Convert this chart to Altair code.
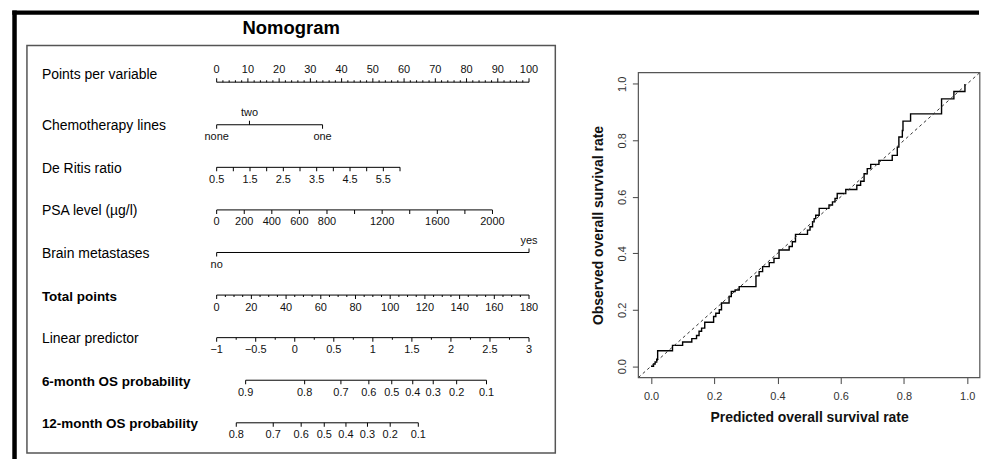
import altair as alt
import pandas as pd

FONT = "Liberation Sans"

# ---------------- Nomogram values ----------------
panel_title = "Nomogram"
row_names = ["Points per variable", "Chemotherapy lines", "De Ritis ratio",
             "PSA level (\u00b5g/l)", "Brain metastases", "Total points",
             "Linear predictor", "6-month OS probability", "12-month OS probability"]
row_bold = [False, False, False, False, False, True, False, True, True]

points_labels = [0, 10, 20, 30, 40, 50, 60, 70, 80, 90, 100]
points_minor_step = 2

chemo_levels = ["none", "two", "one"]
chemo_points = [0.0, 10.5, 33.9]
chemo_side = ["below", "above", "below"]

deritis_ticks = [0.5, 1.0, 1.5, 2.0, 2.5, 3.0, 3.5, 4.0, 4.5, 5.0, 5.5, 6.0]
deritis_labels = [0.5, 1.5, 2.5, 3.5, 4.5, 5.5]
deritis_points_at_max = 58.7

psa_ticks = [0, 200, 400, 600, 800, 1000, 1200, 1400, 1600, 1800, 2000]
psa_labels = [0, 200, 400, 600, 800, 1200, 1600, 2000]
psa_points_at_max = 88.3

brain_levels = ["no", "yes"]
brain_points = [0.0, 100.0]
brain_side = ["below", "above"]

total_labels = [0, 20, 40, 60, 80, 100, 120, 140, 160, 180]
total_minor_step = 5
total_max = 180

lp_labels = [-1, -0.5, 0, 0.5, 1, 1.5, 2, 2.5, 3]
lp_minor = [-0.75, -0.25, 0.25, 0.75, 1.25, 1.75, 2.25, 2.75]

os6_probs = [0.9, 0.8, 0.7, 0.6, 0.5, 0.4, 0.3, 0.2, 0.1]
os6_total_points = [16.7, 50.7, 71.6, 87.7, 100.9, 113.0, 124.8, 138.3, 155.5]
os12_probs = [0.8, 0.7, 0.6, 0.5, 0.4, 0.3, 0.2, 0.1]
os12_total_points = [11.3, 32.6, 48.7, 62.0, 74.5, 86.9, 100.0, 116.2]

# ---------------- Calibration values ----------------
cal_pred = [0.000, 0.008, 0.013, 0.018, 0.021, 0.068, 0.100, 0.129, 0.144, 0.152,
            0.160, 0.170, 0.198, 0.205, 0.216, 0.223, 0.247, 0.254, 0.266, 0.279,
            0.332, 0.342, 0.353, 0.374, 0.389, 0.405, 0.437, 0.447, 0.457, 0.495,
            0.503, 0.511, 0.516, 0.521, 0.532, 0.563, 0.574, 0.582, 0.589, 0.616,
            0.651, 0.663, 0.674, 0.684, 0.695, 0.721, 0.763, 0.779, 0.784, 0.795,
            0.797, 0.821, 0.919, 0.958, 0.993]
cal_obs = [0.000, 0.008, 0.015, 0.025, 0.055, 0.074, 0.086, 0.098, 0.109, 0.124,
           0.135, 0.156, 0.176, 0.188, 0.200, 0.224, 0.247, 0.265, 0.270, 0.282,
           0.320, 0.335, 0.353, 0.367, 0.382, 0.412, 0.424, 0.441, 0.467, 0.482,
           0.494, 0.512, 0.523, 0.535, 0.559, 0.571, 0.582, 0.594, 0.612, 0.626,
           0.641, 0.655, 0.682, 0.700, 0.715, 0.729, 0.747, 0.776, 0.812, 0.835,
           0.868, 0.894, 0.947, 0.973, 1.000]
cal_limits = [-0.04, 1.04]
cal_ticks = [0.0, 0.2, 0.4, 0.6, 0.8, 1.0]


def fmt(v):
    return f"{v:g}".replace("-", "\u2212")


ticks, labels, lines = [], [], []

# Row 0: points per variable
for v in range(0, 101, points_minor_step):
    ticks.append(dict(row=0, pts=v, kind="up_major" if v % 10 == 0 else "up_minor"))
for v in points_labels:
    labels.append(dict(row=0, pts=v, text=fmt(v), side="above"))
lines.append(dict(row=0, x0=0, x1=100))

# Row 1: chemotherapy lines
for lev, p, s in zip(chemo_levels, chemo_points, chemo_side):
    ticks.append(dict(row=1, pts=p, kind="up_major" if s == "above" else "down_major"))
    labels.append(dict(row=1, pts=p, text=lev, side=s))
lines.append(dict(row=1, x0=min(chemo_points), x1=max(chemo_points)))

# Row 2: De Ritis
dr = lambda v: (v - deritis_ticks[0]) / (deritis_ticks[-1] - deritis_ticks[0]) * deritis_points_at_max
for v in deritis_ticks:
    ticks.append(dict(row=2, pts=dr(v), kind="down_major"))
for v in deritis_labels:
    labels.append(dict(row=2, pts=dr(v), text=fmt(v), side="below"))
lines.append(dict(row=2, x0=dr(deritis_ticks[0]), x1=dr(deritis_ticks[-1])))

# Row 3: PSA
ps = lambda v: v / psa_ticks[-1] * psa_points_at_max
for v in psa_ticks:
    ticks.append(dict(row=3, pts=ps(v), kind="down_major"))
for v in psa_labels:
    labels.append(dict(row=3, pts=ps(v), text=fmt(v), side="below"))
lines.append(dict(row=3, x0=0, x1=ps(psa_ticks[-1])))

# Row 4: brain metastases
for lev, p, s in zip(brain_levels, brain_points, brain_side):
    ticks.append(dict(row=4, pts=p, kind="up_major" if s == "above" else "down_major"))
    labels.append(dict(row=4, pts=p, text=lev, side=s))
lines.append(dict(row=4, x0=min(brain_points), x1=max(brain_points)))

# Row 5: total points
tp = lambda v: v / total_max * 100
for v in range(0, total_max + 1, total_minor_step):
    ticks.append(dict(row=5, pts=tp(v), kind="down_major" if v % 20 == 0 else "down_minor"))
for v in total_labels:
    labels.append(dict(row=5, pts=tp(v), text=fmt(v), side="below"))
lines.append(dict(row=5, x0=0, x1=100))

# Row 6: linear predictor
lpf = lambda v: (v - lp_labels[0]) / (lp_labels[-1] - lp_labels[0]) * 100
for v in lp_labels:
    ticks.append(dict(row=6, pts=lpf(v), kind="down_major"))
    labels.append(dict(row=6, pts=lpf(v), text=fmt(v), side="below"))
for v in lp_minor:
    ticks.append(dict(row=6, pts=lpf(v), kind="down_minor"))
lines.append(dict(row=6, x0=0, x1=100))

# Rows 7, 8: survival probabilities
for row, probs, tps in [(7, os6_probs, os6_total_points), (8, os12_probs, os12_total_points)]:
    for pr, t in zip(probs, tps):
        ticks.append(dict(row=row, pts=tp(t), kind="down_major"))
        labels.append(dict(row=row, pts=tp(t), text=fmt(pr), side="below"))
    lines.append(dict(row=row, x0=tp(min(tps)), x1=tp(max(tps))))

ticks_df = pd.DataFrame(ticks)
labels_df = pd.DataFrame(labels)
lines_df = pd.DataFrame(lines)
names_df = pd.DataFrame(dict(row=list(range(len(row_names))), name=row_names, bold=row_bold))

W1, H1 = 530, 408.7
x_nomo = alt.Scale(domain=[-60.74, 108.42], nice=False, zero=False)
y_nomo = alt.Scale(domain=[-0.8593, 8.7099], reverse=True, nice=False, zero=False)
X = alt.X("pts:Q", scale=x_nomo, axis=None)
Y = alt.Y("row:Q", scale=y_nomo, axis=None)

line_layer = alt.Chart(lines_df).mark_rule(color="black", strokeWidth=1).encode(
    x=alt.X("x0:Q", scale=x_nomo, axis=None), x2="x1:Q", y=Y)


def tick_layer(kind, size, offset):
    return alt.Chart(ticks_df).transform_filter(alt.datum.kind == kind).mark_tick(
        orient="vertical", size=size, thickness=1, yOffset=offset, color="black", opacity=1
    ).encode(x=X, y=Y)


tick_layers = [tick_layer("up_major", 4, -2), tick_layer("up_minor", 2, -1),
               tick_layer("down_major", 4, 2), tick_layer("down_minor", 2, 1)]

lab_above = alt.Chart(labels_df).transform_filter(alt.datum.side == "above").mark_text(
    font=FONT, fontSize=11, baseline="middle", dy=-12, color="#111").encode(x=X, y=Y, text="text:N")
lab_below = alt.Chart(labels_df).transform_filter(alt.datum.side == "below").mark_text(
    font=FONT, fontSize=11, baseline="middle", dy=12.5, color="#111").encode(x=X, y=Y, text="text:N")

name_first = alt.Chart(names_df).transform_filter(alt.datum.row == 0).mark_text(
    font=FONT, fontSize=14, align="left", baseline="middle", dy=-7, color="black").encode(
    x=alt.value(15), y=Y, text="name:N")
name_reg = alt.Chart(names_df).transform_filter(
    (alt.datum.row > 0) & (alt.datum.bold == False)).mark_text(
    font=FONT, fontSize=14, align="left", baseline="middle", dy=1.5, color="black").encode(
    x=alt.value(15), y=Y, text="name:N")
name_bold = alt.Chart(names_df).transform_filter(alt.datum.bold == True).mark_text(
    font=FONT, fontSize=13.5, fontWeight="bold", align="left", baseline="middle", dy=1.5,
    color="black").encode(x=alt.value(15), y=Y, text="name:N")

frame_df = pd.DataFrame({"title": [panel_title]})
band_left = alt.Chart(frame_df).mark_rect(color="black").encode(
    x=alt.value(-14.7), x2=alt.value(-10.2), y=alt.value(-35.3), y2=alt.value(H1 + 7))
band_top = alt.Chart(frame_df).mark_rect(color="black").encode(
    x=alt.value(-14.7), x2=alt.value(955), y=alt.value(-35.3), y2=alt.value(-31))
title_text = alt.Chart(frame_df).mark_text(
    font=FONT, fontSize=18.5, fontWeight="bold", align="center", baseline="alphabetic",
    color="black").encode(x=alt.value(W1 / 2), y=alt.value(-12), text="title:N")

left = alt.layer(band_left, band_top, title_text, line_layer, *tick_layers, lab_above, lab_below,
                 name_first, name_reg, name_bold).properties(
    width=W1, height=H1,
    view=alt.ViewBackground(stroke="#555", strokeWidth=1.5))

# ---------------- Calibration chart ----------------
W2, H2 = 342.5, 333
box_h = 305.9
y_top = cal_limits[0] + (cal_limits[1] - cal_limits[0]) * H2 / box_h
x_cal = alt.Scale(domain=cal_limits, nice=False, zero=False)
y_cal = alt.Scale(domain=[cal_limits[0], y_top], nice=False, zero=False)

cal_df = pd.DataFrame(dict(pred=cal_pred, obs=cal_obs))
diag_df = pd.DataFrame(dict(pred=cal_limits, obs=cal_limits))
box_df = pd.DataFrame(dict(pred=[cal_limits[0]], pred2=[cal_limits[1]],
                           obs=[cal_limits[0]], obs2=[cal_limits[1]]))

x_axis = alt.Axis(values=cal_ticks, format=".1f", title="Predicted overall survival rate",
                  grid=False, domain=False, tickSize=6, tickColor="#444", labelFont=FONT,
                  labelFontSize=11, labelColor="#333", labelPadding=7, titleFont=FONT,
                  titleFontSize=14, titleFontWeight="bold", titleColor="#111",
                  titleY=43.7, titleBaseline="alphabetic")
y_axis = alt.Axis(values=cal_ticks, format=".1f", title="Observed overall survival rate",
                  grid=False, domain=False, tickSize=6, tickColor="#444", labelFont=FONT,
                  labelFontSize=11, labelColor="#333", labelAngle=270, labelAlign="center",
                  labelBaseline="middle", labelPadding=9.7, titleFont=FONT, titleFontSize=14,
                  titleFontWeight="bold", titleColor="#111", titleAngle=270, titleX=-35.7,
                  titleY=180, titleBaseline="alphabetic", titleAlign="center")

X2 = alt.X("pred:Q", scale=x_cal, axis=x_axis)
Y2 = alt.Y("obs:Q", scale=y_cal, axis=y_axis)

step = alt.Chart(cal_df).mark_line(color="black", strokeWidth=1.4, interpolate="step-after").encode(
    x=X2, y=Y2)
diag = alt.Chart(diag_df).mark_line(color="#333", strokeWidth=1, strokeDash=[3, 3]).encode(
    x=X2, y=Y2)
box = alt.Chart(box_df).mark_rect(filled=False, stroke="#555", strokeWidth=1.2).encode(
    x=X2, x2="pred2:Q", y=Y2, y2="obs2:Q")

right = alt.layer(step, diag, box).properties(
    width=W2, height=H2, view=alt.ViewBackground(stroke=None))

chart = alt.hconcat(left, right, spacing=83.3, bounds="flush").properties(
    padding={"left": 3, "top": 0, "right": 0, "bottom": 0}, background="white"
).configure_view(stroke=None)

chart.save("out.html", embed_options={"renderer": "svg", "actions": False})
